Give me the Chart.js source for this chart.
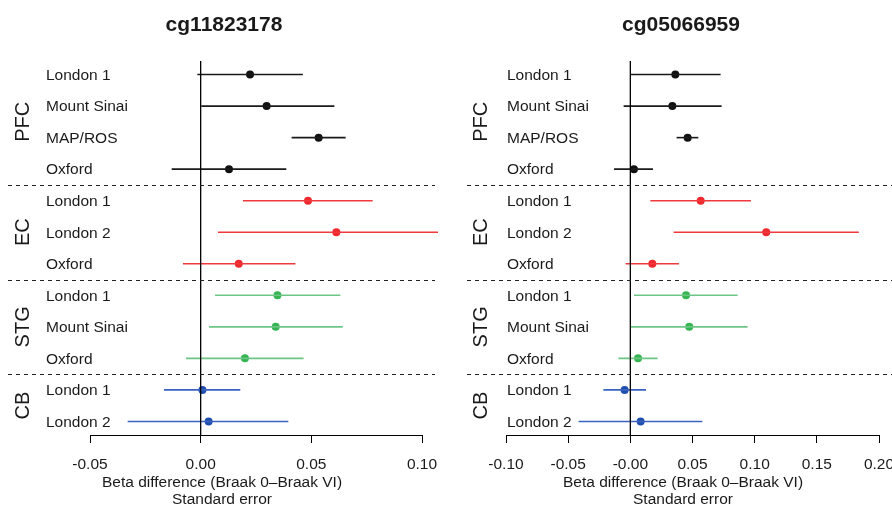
<!DOCTYPE html>
<html>
<head>
<meta charset="utf-8">
<script src="https://cdn.jsdelivr.net/npm/chart.js@4.4.1/dist/chart.umd.min.js"></script>
<style>
  html, body { margin: 0; padding: 0; background: #fff; }
  .panel { position: absolute; top: 0; width: 446px; height: 506px; }
</style>
</head>
<body>
<div class="panel" style="left:0"><canvas id="c1" width="446" height="506"></canvas></div>
<div class="panel" style="left:446px"><canvas id="c2" width="446" height="506"></canvas></div>
<script>
// ---------- data ----------
const panelTitles = ['cg11823178', 'cg05066959'];
const rowLabels = ['London 1', 'Mount Sinai', 'MAP/ROS', 'Oxford',
                   'London 1', 'London 2', 'Oxford',
                   'London 1', 'Mount Sinai', 'Oxford',
                   'London 1', 'London 2'];
const rowGroups = ['PFC', 'PFC', 'PFC', 'PFC',
                   'EC', 'EC', 'EC',
                   'STG', 'STG', 'STG',
                   'CB', 'CB'];
const groupNames = ['PFC', 'EC', 'STG', 'CB'];

// cg11823178
const est1 = [0.0223, 0.0298, 0.0533, 0.0128, 0.0485, 0.0613, 0.0172, 0.0347, 0.0339, 0.0200, 0.0008, 0.0036];
const lo1  = [-0.0015, 0.0003, 0.0411, -0.0131, 0.0191, 0.0078, -0.0080, 0.0065, 0.0038, -0.0066, -0.0166, -0.0330];
const hi1  = [0.0462, 0.0604, 0.0655, 0.0387, 0.0777, 0.1148, 0.0428, 0.0631, 0.0642, 0.0465, 0.0179, 0.0396];

// cg05066959
const est2 = [0.0362, 0.0338, 0.0461, 0.0029, 0.0566, 0.1093, 0.0177, 0.0448, 0.0474, 0.0062, -0.0046, 0.0083];
const lo2  = [0.0000, -0.0054, 0.0372, -0.0131, 0.0161, 0.0348, -0.0038, 0.0030, 0.0000, -0.0096, -0.0217, -0.0416];
const hi2  = [0.0726, 0.0734, 0.0547, 0.0182, 0.0970, 0.1838, 0.0391, 0.0863, 0.0943, 0.0220, 0.0126, 0.0579];

const tickValues1 = [-0.05, 0.00, 0.05, 0.10];
const tickLabels1 = ['-0.05', '0.00', '0.05', '0.10'];
const tickValues2 = [-0.10, -0.05, 0.00, 0.05, 0.10, 0.15, 0.20];
const tickLabels2 = ['-0.10', '-0.05', '-0.00', '0.05', '0.10', '0.15', '0.20'];

const xTitleLines = ['Beta difference (Braak 0\u2013Braak VI)', 'Standard error'];

// ---------- styles ----------
const FONT = "'Liberation Sans', Arial, Helvetica, sans-serif";
const TEXT = '#1a1a1a';
const pointColors = { PFC: '#111111', EC: '#ee2a2e', STG: '#35b552', CB: '#1f4fae' };
const barColors   = { PFC: '#1a1a1a', EC: '#f0393d', STG: '#6cc584', CB: '#3a62bf' };

Chart.defaults.font.family = FONT;
Chart.defaults.color = TEXT;

const Y_MIN = 0.57, Y_MAX = rowLabels.length + 0.43;

const layouts = [
  { id: 'c1', padL: 90, padR: 24, clipR: 16, labelX: 46, groupX: 23, dashFrom: 8,  dashTo: 435, titleX: 224, axisTitleX: 222 },
  { id: 'c2', padL: 60, padR: 13, clipR: 13, labelX: 61, groupX: 35, dashFrom: 21, dashTo: 446, titleX: 235, axisTitleX: 237 }
];
const panelData = [
  { title: panelTitles[0], est: est1, lo: lo1, hi: hi1, ticks: tickValues1, labels: tickLabels1 },
  { title: panelTitles[1], est: est2, lo: lo2, hi: hi2, ticks: tickValues2, labels: tickLabels2 }
];

function makeChart(L, D) {
  const clip = { left: 60, top: 0, right: L.clipR, bottom: 0 };
  const datasets = [];
  // zero reference line
  datasets.push({
    data: [{ x: 0, y: Y_MIN }, { x: 0, y: Y_MAX }],
    showLine: true, borderColor: '#000', borderWidth: 1.3, pointRadius: 0, clip: clip
  });
  // error bars
  rowLabels.forEach((lab, i) => {
    datasets.push({
      data: [{ x: D.lo[i], y: i + 1 }, { x: D.hi[i], y: i + 1 }],
      showLine: true, borderColor: barColors[rowGroups[i]], borderWidth: 1.6,
      pointRadius: 0, clip: clip
    });
  });
  // point estimates per group
  groupNames.forEach(g => {
    const pts = [];
    rowGroups.forEach((rg, i) => { if (rg === g) pts.push({ x: D.est[i], y: i + 1 }); });
    datasets.push({
      data: pts, showLine: false, pointRadius: 4, pointBorderWidth: 0,
      pointBackgroundColor: pointColors[g], pointBorderColor: pointColors[g], clip: clip
    });
  });

  const annot = {
    id: 'forestAnnot',
    afterDraw(chart) {
      const ctx = chart.ctx, ys = chart.scales.y;
      ctx.save();
      // panel title
      ctx.fillStyle = TEXT;
      ctx.font = 'bold 21px ' + FONT;
      ctx.textAlign = 'center';
      ctx.textBaseline = 'middle';
      ctx.fillText(D.title, L.titleX, 25);
      // x-axis title (two lines)
      ctx.font = '15.5px ' + FONT;
      ctx.fillText(xTitleLines[0], L.axisTitleX, 482.5);
      ctx.fillText(xTitleLines[1], L.axisTitleX, 499.5);
      // separators
      ctx.strokeStyle = '#222';
      ctx.lineWidth = 1;
      ctx.setLineDash([4, 4]);
      for (let i = 1; i < rowGroups.length; i++) {
        if (rowGroups[i] !== rowGroups[i - 1]) {
          const y = Math.round(ys.getPixelForValue(i + 0.5)) + 0.5;
          ctx.beginPath(); ctx.moveTo(L.dashFrom, y); ctx.lineTo(L.dashTo, y); ctx.stroke();
        }
      }
      ctx.setLineDash([]);
      // row labels
      ctx.font = '15.5px ' + FONT;
      ctx.textAlign = 'left';
      ctx.textBaseline = 'middle';
      rowLabels.forEach((lab, i) => ctx.fillText(lab, L.labelX, ys.getPixelForValue(i + 1) + 1));
      // group labels
      ctx.font = '20px ' + FONT;
      ctx.textAlign = 'center';
      groupNames.forEach(g => {
        const idx = rowGroups.map((r, i) => r === g ? i + 1 : null).filter(v => v !== null);
        const mid = (idx[0] + idx[idx.length - 1]) / 2;
        const y = ys.getPixelForValue(mid);
        ctx.save();
        ctx.translate(L.groupX, y);
        ctx.rotate(-Math.PI / 2);
        ctx.fillText(g, 0, 0);
        ctx.restore();
      });
      ctx.restore();
    }
  };

  return new Chart(document.getElementById(L.id), {
    type: 'scatter',
    data: { datasets },
    options: {
      responsive: false,
      animation: false,
      layout: { padding: { left: L.padL, right: L.padR, top: 61, bottom: 0 } },
      plugins: {
        legend: { display: false },
        tooltip: { enabled: false },
        title: { display: false }
      },
      scales: {
        x: {
          type: 'linear',
          min: D.ticks[0], max: D.ticks[D.ticks.length - 1],
          afterBuildTicks: s => { s.ticks = D.ticks.map(v => ({ value: v })); },
          afterFit: s => { s.height = 71; s.paddingLeft = 0; s.paddingRight = 0; },
          ticks: {
            callback: (v, i) => D.labels[i],
            font: { size: 15.5, lineHeight: 1.1 },
            color: TEXT, padding: 13, maxRotation: 0, autoSkip: false
          },
          grid: { display: true, drawOnChartArea: false, drawTicks: true, tickLength: 8, color: '#000', lineWidth: 1 },
          border: { display: true, color: '#000', width: 1 },
          title: { display: false }
        },
        y: {
          type: 'linear', reverse: true, min: Y_MIN, max: Y_MAX, display: false
        }
      }
    },
    plugins: [annot]
  });
}

layouts.forEach((L, k) => makeChart(L, panelData[k]));
</script>
</body>
</html>
